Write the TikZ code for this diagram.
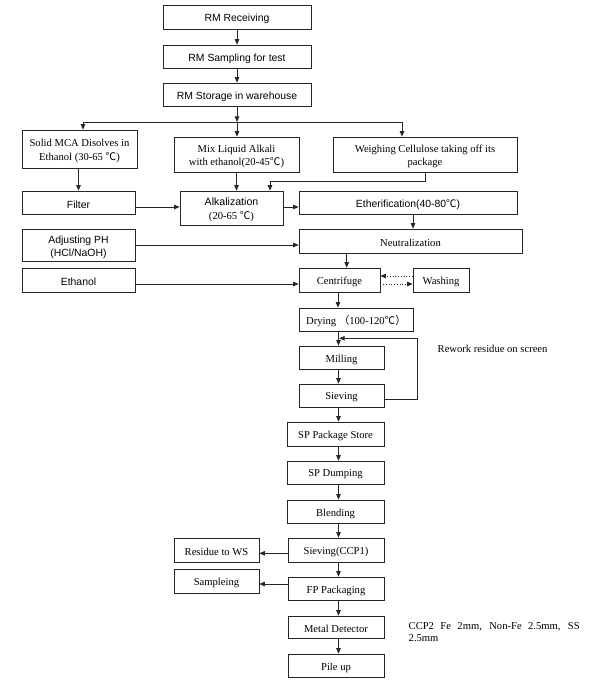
\documentclass[tikz,border=0pt]{standalone}
\usepackage{fontspec}
\setmainfont{Liberation Serif}
\newfontfamily\arialf{Liberation Sans}
\newfontfamily\cjkf{Noto Sans CJK SC}
\newcommand{\dgc}{{\cjkf ℃}}
\usetikzlibrary{arrows.meta,calc}
\newcommand{\bx}[7]{%
  \node[frame, minimum width={#5-#3}, minimum height={#6-#4}] (#1) at ({(#3+#5)/2},{(#4+#6)/2}) {};
  \node[#2] (#1t) at (#1.center) {#7};}
\begin{document}
\begin{tikzpicture}[x=1pt,y=-1pt,
  frame/.style={draw=black!85, line width=0.75pt, inner sep=0pt},
  box/.style={inner sep=0pt, align=center, yshift=-2pt, font=\fontsize{10.6}{13.3}\selectfont},
  sbox/.style={box, font=\arialf\fontsize{10.4}{13.3}\selectfont},
  arr/.style={-{Triangle[length=5.5pt,width=4.5pt]}, line width=0.75pt, draw=black!85},
  ln/.style={line width=0.75pt, draw=black!85},
  dotarr/.style={arr, dotted},
  note/.style={inner sep=0pt, align=left, font=\fontsize{10.6}{11.5}\selectfont}]
\useasboundingbox (0,0) rectangle (600,687);
\fill[white] (0,0) rectangle (600,687);

\bx{rec}{sbox}{163}{5}{311}{29}{RM Receiving}
\bx{samp}{sbox}{163}{45}{311}{68}{RM Sampling for test}
\bx{stor}{sbox}{163}{83}{311}{106}{RM Storage in warehouse}
\bx{mca}{box}{22}{130}{137}{168}{Solid MCA Disolves in\\Ethanol (30-65 \dgc)}
\bx{mix}{box}{174}{137}{299}{172}{Mix Liquid Alkali\\with ethanol(20-45\dgc)}
\bx{weigh}{box}{333}{137}{517}{172}{Weighing Cellulose taking off its\\package}
\bx{filter}{sbox}{22}{191}{135}{214}{Filter}
\bx{alk}{box,font=\fontsize{10.6}{14.3}\selectfont}{180}{191}{283}{225}{{\arialf Alkalization}\\(20-65 \dgc)}
\bx{ether}{sbox}{299}{191}{517}{214}{Etherification(40-80\dgc)}
\bx{adj}{sbox}{22}{229}{135}{261}{Adjusting PH\\(HCl/NaOH)}
\bx{neut}{box}{299}{229}{522}{253}{Neutralization}
\bx{eth}{sbox}{22}{268}{135}{292}{Ethanol}
\bx{cent}{box}{299}{268}{380}{292}{Centrifuge}
\bx{wash}{box}{413}{268}{469}{292}{Washing}
\bx{dry}{box}{299}{308}{413}{331}{Drying {\cjkf （}100-120\dgc{\cjkf ）}}
\bx{mill}{box}{299}{346}{384}{369}{Milling}
\bx{siev}{box}{299}{384}{384}{407}{Sieving}
\bx{spst}{box}{287}{422}{384}{446}{SP Package Store}
\bx{spdump}{box}{287}{461}{384}{484}{SP Dumping}
\bx{blend}{box}{287}{500}{384}{523}{Blending}
\bx{sievccp}{box}{288}{538}{384}{562}{Sieving(CCP1)}
\bx{resid}{box}{174}{538}{259}{562}{Residue to WS}
\bx{sampl}{box}{174}{569}{259}{593}{Sampleing}
\bx{fp}{box}{288}{577}{384}{600}{FP Packaging}
\bx{metal}{box}{288}{616}{384}{638}{Metal Detector}
\bx{pile}{box}{288}{654}{384}{677}{Pile up}

\node[note, anchor=west] (rework) at (437.5,348.5) {Rework residue on screen};
\node[note, anchor=west] (ccp2) at (408.5,632) {\makebox[171pt][s]{CCP2 Fe 2mm, Non-Fe 2.5mm, SS}\\2.5mm};

% coordinates
\coordinate (jn) at (237,122);
\coordinate (jl) at (83,122);
\coordinate (jr) at (402,122);
\coordinate (wk) at (270,181);
\coordinate (ya) at (0,207);
\coordinate (xe) at (413,0);
\coordinate (xn) at (346.7,0);
\coordinate (ye) at (0,284);
\coordinate (yw1) at (0,276);
\coordinate (yw2) at (0,284);
\coordinate (xc) at (338,0);
\coordinate (tr) at (338.5,0);
\coordinate (lp1) at (417.7,399);
\coordinate (lp2) at (417.7,338.3);
\coordinate (lpe) at (339.2,338.3);
\coordinate (yr) at (0,553.3);
\coordinate (ys) at (0,584);

\draw[arr] (rec) -- (samp);
\draw[arr] (samp) -- (stor);
\draw[arr] (stor.south) -- (jn);
\draw[ln] (jl) -- (jr);
\draw[arr] (jl) -- (jl |- mca.north);
\draw[arr] (jn) -- (jn |- mix.north);
\draw[arr] (jr) -- (jr |- weigh.north);
\draw[arr] (mca.south -| filter.north) -- (filter.north);
\draw[arr] (mix.south) -- (mix.south |- alk.north);
\draw[arr] (weigh.south) |- (wk) -- (wk |- alk.north);
\draw[arr] (filter.east |- ya) -- (alk.west |- ya);
\draw[arr] (alk.east |- ya) -- (ether.west |- ya);
\draw[arr] (ether.south -| xe) -- (neut.north -| xe);
\draw[arr] (adj.east) -- (adj.east -| neut.west);
\draw[arr] (eth.east |- ye) -- (cent.west |- ye);
\draw[arr] (neut.south -| xn) -- (cent.north -| xn);
\draw[dotarr] (wash.west |- yw1) -- (cent.east |- yw1);
\draw[dotarr] (cent.east |- yw2) -- (wash.west |- yw2);
\draw[arr] (cent.south -| xc) -- (dry.north -| xc);
\draw[arr] (dry.south -| tr) -- (mill.north -| tr);
\draw[arr] (mill.south -| tr) -- (siev.north -| tr);
\draw[arr] (siev.east |- lp1) -- (lp1) -- (lp2) -- (lpe);
\draw[arr] (siev.south -| tr) -- (spst.north -| tr);
\draw[arr] (spst.south -| tr) -- (spdump.north -| tr);
\draw[arr] (spdump.south -| tr) -- (blend.north -| tr);
\draw[arr] (blend.south -| tr) -- (sievccp.north -| tr);
\draw[arr] (sievccp.west |- yr) -- (resid.east |- yr);
\draw[arr] (sievccp.south -| tr) -- (fp.north -| tr);
\draw[arr] (fp.west |- ys) -- (sampl.east |- ys);
\draw[arr] (fp.south -| tr) -- (metal.north -| tr);
\draw[arr] (metal.south -| tr) -- (pile.north -| tr);
\end{tikzpicture}
\end{document}
